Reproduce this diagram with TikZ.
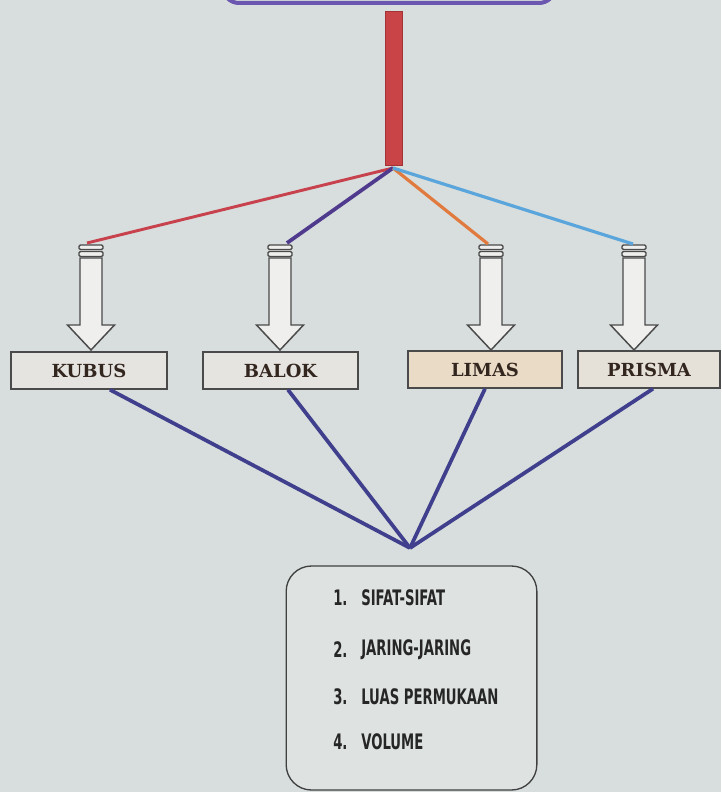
\documentclass[tikz,border=0pt]{standalone}
\usepackage{fontspec}
\setmainfont{DejaVu Serif}
\newfontfamily\boxfont{DejaVu Serif}
\newfontfamily\listfont{DejaVu Sans}[FakeStretch=0.62]
\usetikzlibrary{calc}
\definecolor{bg}{HTML}{D8DEDD}
\definecolor{topbord}{HTML}{6B57B0}
\definecolor{barred}{HTML}{C94446}
\definecolor{barredd}{HTML}{A23236}
\definecolor{lred}{HTML}{C8424E}
\definecolor{lpurple}{HTML}{4F3A8E}
\definecolor{lorange}{HTML}{E07A3E}
\definecolor{lblue}{HTML}{5AA6DC}
\definecolor{ldark}{HTML}{3F3F8D}
\definecolor{boxgray}{HTML}{E6E4E1}
\definecolor{boxtan}{HTML}{E9DBC6}
\definecolor{boxlt}{HTML}{E5E1D9}
\definecolor{arrfill}{HTML}{EFEFEE}
\definecolor{outl}{HTML}{4A4A4A}
\definecolor{labtext}{HTML}{33261F}
\tikzset{
  shapebox/.style={draw=outl, line width=1.1pt, minimum width=#1, minimum height=27.75pt,
    inner sep=0pt, font=\boxfont\bfseries\fontsize{13.5}{15}\selectfont, text=labtext},
  shapebox/.default=117pt,
  conn/.style={line width=2.4pt},
  bot/.style={line width=2.8pt, color=ldark},
  arrline/.style={draw=outl, line width=1.1pt, fill=arrfill},
  listnum/.style={anchor=west, inner sep=0pt, font=\listfont\bfseries\fontsize{16}{18}\selectfont, text=black!85},
  darrow/.pic={
    \draw[arrline, rounded corners=1pt] (-12,0) rectangle (12,4.5);
    \draw[arrline, rounded corners=1pt] (-12,6.5) rectangle (12,11.5);
    \draw[arrline] (-11,13) -- (-11,80) -- (-23.5,80) -- (0,105) -- (23.5,80) -- (11,80) -- (11,13) -- cycle;
  }
}
\begin{document}
\begin{tikzpicture}[x=0.75pt,y=-0.75pt]
\fill[bg] (0,0) rectangle (721,792);
\useasboundingbox (0,0) rectangle (721,792);
% top box (cut off)
\draw[topbord, line width=3pt, rounded corners=12pt, fill=bg] (223,-40) rectangle (555,3);
% red bar
\node[draw=barredd, fill=barred, line width=0.6pt, minimum width=12.75pt, minimum height=116pt, inner sep=0pt] (bar) at (393.5,88.5) {};
\coordinate (junc) at (393,168);
% arrows
\pic at (91,245) {darrow};
\pic at (280,245) {darrow};
\pic at (491,245) {darrow};
\pic at (634,245) {darrow};
\coordinate (ktop) at (87,243);
\coordinate (btop) at (287,243);
\coordinate (ltop) at (488,244);
\coordinate (ptop) at (633,244);
\draw[conn, lred, line width=2.2pt] (junc) -- (ktop);
\draw[conn, lpurple, line width=2.8pt] (junc) -- (btop);
\draw[conn, lorange] (junc) -- (ltop);
\draw[conn, lblue] (junc) -- (ptop);
% boxes
\node[shapebox=117pt, fill=boxgray] (kubus) at (89,370.5) {KUBUS};
\node[shapebox=116pt, fill=boxgray] (balok) at (280.5,370.5) {BALOK};
\node[shapebox=115.5pt, fill=boxtan] (limas) at (485,369.5) {LIMAS};
\node[shapebox=106.5pt, fill=boxlt] (prisma) at (649,369.5) {PRISMA};
% converging lines
\coordinate (meet) at (410,548);
\draw[bot] ([xshift=15.75pt]kubus.south) -- (meet);
\draw[bot] ([xshift=5.6pt]balok.south) -- (meet);
\draw[bot] (limas.south) -- (meet);
\draw[bot] ([xshift=3pt]prisma.south) -- (meet);
% list box
\node[draw=black!75, line width=1pt, rounded corners=19pt, fill=bg!85!white, minimum width=188pt, minimum height=168pt, inner sep=0pt] (list) at (411.5,678) {};
\node[listnum] (n1) at (333,598) {1.};
\node[listnum] (t1) at (361,598) {SIFAT-SIFAT};
\node[listnum] (n2) at (333,650) {2.};
\node[listnum] (t2) at (361,650) {JARING-JARING};
\node[listnum] (n3) at (333,697) {3.};
\node[listnum] (t3) at (361,697) {LUAS PERMUKAAN};
\node[listnum] (n4) at (333,742) {4.};
\node[listnum] (t4) at (361,742) {VOLUME};
\end{tikzpicture}
\end{document}
